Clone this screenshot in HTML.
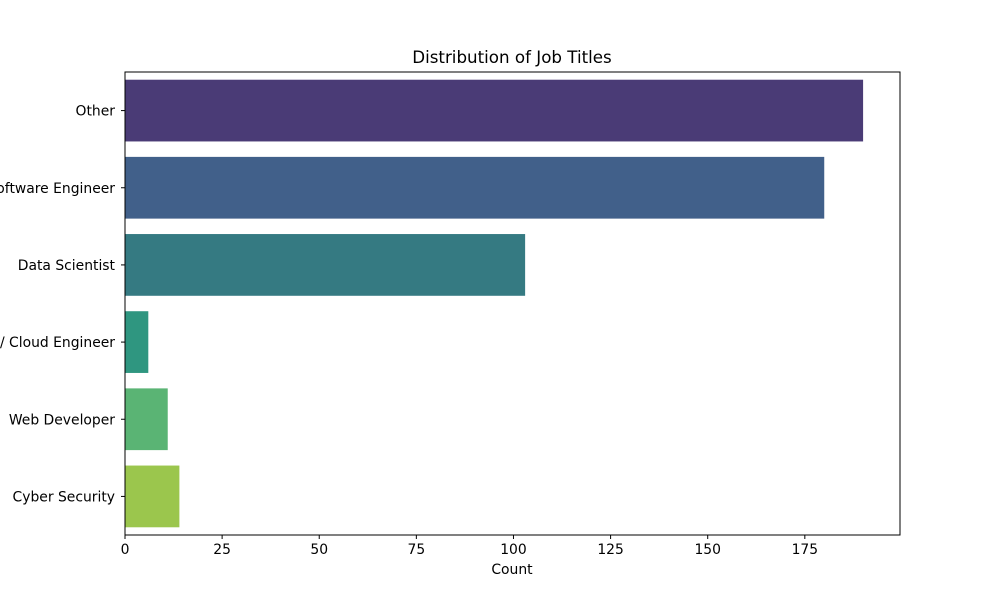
<!DOCTYPE html>
<html><head><meta charset="utf-8"><style>body{margin:0;background:#fff}svg{display:block;font-family:"DejaVu Sans","Liberation Sans",sans-serif}</style></head>
<body>
<svg id="chart" width="1000" height="600">
<text x="512" y="63" font-size="16.7" text-anchor="middle">Distribution of Job Titles</text>
<g id="bars"></g><g id="axes"></g>
<rect x="125" y="72" width="775" height="463" fill="none" stroke="#000" stroke-width="1"/>
<text x="512" y="574" font-size="13.9" text-anchor="middle">Count</text>
</svg>
<script>
const categories = ["Other","Software Engineer","Data Scientist","DevOps / Cloud Engineer","Web Developer","Cyber Security"];
const counts = [190,180,103,6,11,14];
const colors = ["#4a3b76","#41608a","#357a82","#2f9680","#5ab474","#9bc64d"];
const xTicks = [0,25,50,75,100,125,150,175];
const NS="http://www.w3.org/2000/svg";
const L=125,R=900,T=72,B=535,xmax=Math.max(...counts)*1.05;
const xs=v=>L+v/xmax*(R-L);
const band=(B-T)/categories.length;
const bars=document.getElementById('bars'),axes=document.getElementById('axes');
function mk(t,a,p){const e=document.createElementNS(NS,t);for(const k in a)e.setAttribute(k,a[k]);p.appendChild(e);return e;}
categories.forEach((c,i)=>{
 const cy=T+band*(i+0.5),h=band*0.8;
 const r=mk('rect',{x:L,y:cy-h/2,width:xs(counts[i])-L,height:h,fill:colors[i]},bars);
 
 
 mk('line',{x1:L-4,x2:L,y1:cy,y2:cy,stroke:'#000'},axes);
 const t=mk('text',{x:L-10,y:cy+5,'font-size':13.9,'text-anchor':'end'},axes);t.textContent=c;
 
 
});
xTicks.forEach(v=>{
 const x=xs(v);
 mk('line',{x1:x,x2:x,y1:B,y2:B+4,stroke:'#000'},axes);
 const t=mk('text',{x:x,y:B+19,'font-size':13.9,'text-anchor':'middle'},axes);t.textContent=v;
 
 
});
</script>
</body></html>
